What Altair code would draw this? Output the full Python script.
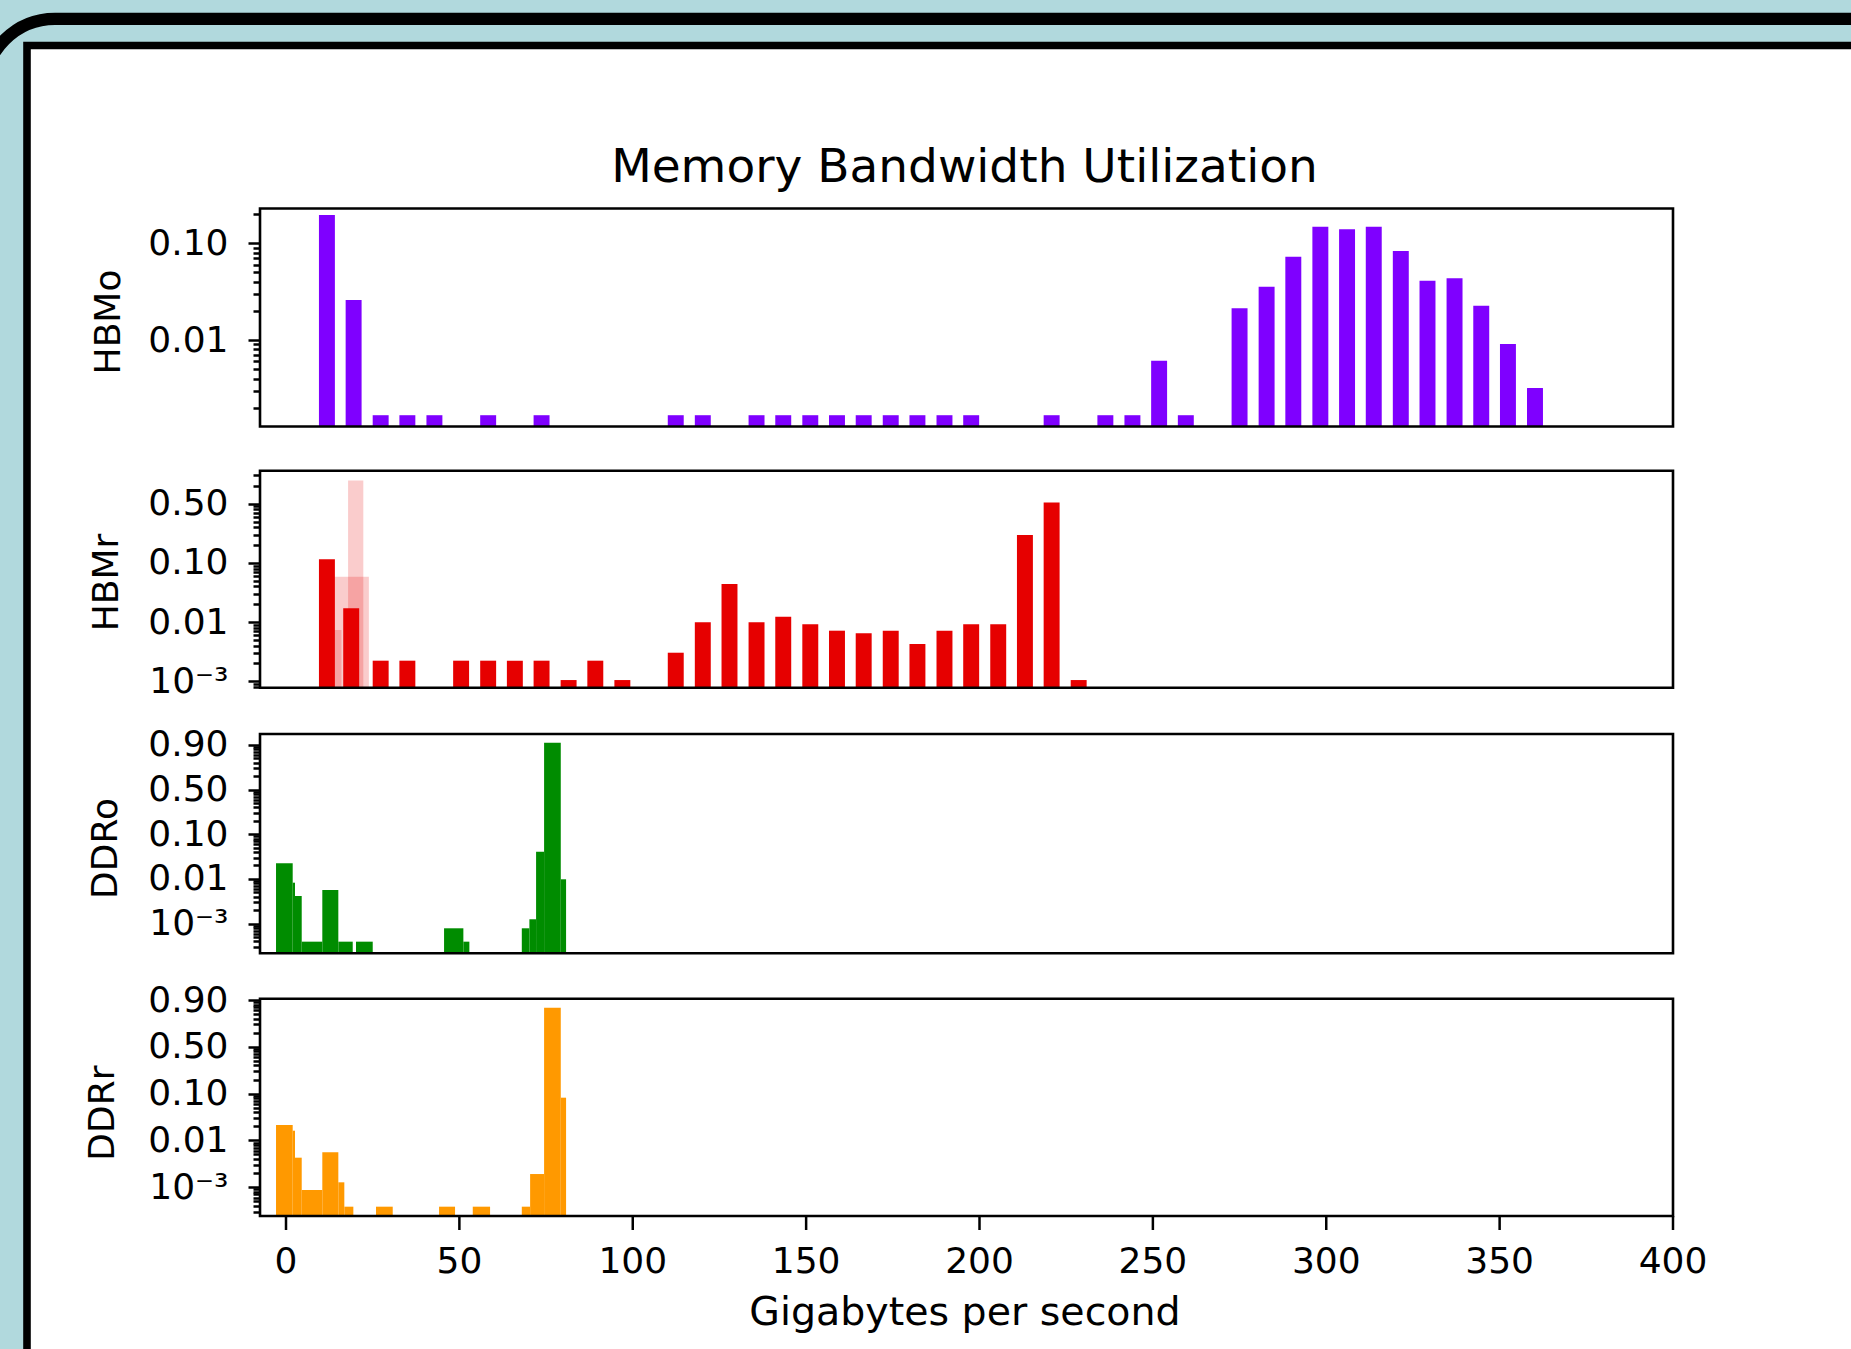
import math
import altair as alt
import pandas as pd

# ------------------------------------------------------------------ data
TITLE = "Memory Bandwidth Utilization"
X_TITLE = "Gigabytes per second"
PANEL_NAMES = ["HBMo", "HBMr", "DDRo", "DDRr"]
X_TICKS = [0, 50, 100, 150, 200, 250, 300, 350, 400]
X_TICK_LABELS = ["0", "50", "100", "150", "200", "250", "300", "350", "400"]

# HBM histograms: bin centres (GB/s) and fraction of samples
hbmo_center = [11.8, 19.5, 27.3, 35.0, 42.8, 58.3, 73.7, 112.4, 120.2, 135.7,
               143.4, 151.2, 158.9, 166.6, 174.4, 182.1, 189.9, 197.6, 220.8,
               236.3, 244.1, 251.8, 259.5, 275.0, 282.8, 290.5, 298.3, 306.0,
               313.7, 321.5, 329.2, 337.0, 344.7, 352.4, 360.2]
hbmo_value = [0.196, 0.0259, 0.00167, 0.00167, 0.00167, 0.00167, 0.00167,
              0.00167, 0.00167, 0.00167, 0.00167, 0.00167, 0.00167, 0.00167,
              0.00167, 0.00167, 0.00167, 0.00167, 0.00167, 0.00167, 0.00167,
              0.0061, 0.00167, 0.0213, 0.0356, 0.0726, 0.1486, 0.1396, 0.1486,
              0.0832, 0.0410, 0.0435, 0.0226, 0.0091, 0.00319]

hbmr_center = [11.8, 18.8, 27.3, 35.0, 50.5, 58.3, 66.0, 73.7, 81.5, 89.2,
               97.0, 112.4, 120.2, 127.9, 135.7, 143.4, 151.2, 158.9, 166.6,
               174.4, 182.1, 189.9, 197.6, 205.4, 213.1, 220.8, 228.6]
hbmr_value = [0.115, 0.0171, 0.00223, 0.00223, 0.00223, 0.00223, 0.00223,
              0.00223, 0.00105, 0.00223, 0.00105, 0.00304, 0.00993, 0.044,
              0.00993, 0.0123, 0.00918, 0.00716, 0.00647, 0.00716, 0.00427,
              0.00716, 0.00918, 0.00918, 0.296, 1.05, 0.00105]

# faint (translucent) HBMr bars
hbmr_shadow_start = [13.9, 17.9, 13.3]
hbmr_shadow_end = [23.9, 22.3, 16.0]
hbmr_shadow_value = [0.0585, 2.47, 0.00736]

# DDR histograms: segment start / end (GB/s) and value
ddro_start = [-2.88, 1.93, 2.60, 4.53, 10.47, 15.09, 20.19, 45.58, 51.15,
              68.00, 70.19, 72.12, 74.43, 79.24]
ddro_end = [1.93, 2.60, 4.53, 10.47, 15.09, 19.24, 25.01, 51.15, 52.88,
            70.19, 72.12, 74.43, 79.24, 80.77]
ddro_value = [0.0224, 0.00824, 0.00415, 0.000394, 0.00565, 0.000394, 0.000394,
              0.000785, 0.000394, 0.000785, 0.00125, 0.0407, 11.2, 0.00982]

ddrr_start = [-2.88, 1.93, 2.60, 4.53, 10.47, 15.09, 16.82, 25.96, 44.14,
              53.86, 68.00, 70.40, 74.43, 79.24]
ddrr_end = [1.93, 2.60, 4.53, 10.47, 15.09, 16.82, 19.42, 30.78, 48.75,
            58.85, 70.40, 74.43, 79.24, 80.77]
ddrr_value = [0.0213, 0.0161, 0.00427, 0.000871, 0.00557, 0.00127, 0.000383,
              0.000383, 0.000383, 0.000383, 0.000383, 0.00191, 6.85, 0.0818]

# y tick values and their (as-printed) labels
hbmo_ticks = [0.01, 0.1]
hbmo_tick_labels = ["0.01", "0.10"]
hbmr_ticks = [0.001, 0.01, 0.1, 1.0]
hbmr_tick_labels = ["10⁻³", "0.01", "0.10", "0.50"]
ddr_ticks = [0.001, 0.01, 0.1, 1.0, 10.0]
ddr_tick_labels = ["10⁻³", "0.01", "0.10", "0.50", "0.90"]

# log10 extents of the four y axes, and of the x axis
Y_EXP = [(-2.894, -0.640), (-3.108, 0.557), (-3.665, 1.245), (-3.616, 1.026)]
X_DOMAIN = [-7.5, 400]

# ------------------------------------------------------------------ layout / style
W, H = 1851, 1349
PL, PR = 260, 1673
PANELS = [(208.5, 426.5), (470.7, 687.7), (734.0, 953.3), (998.8, 1216.0)]
HALF = 2.3  # half bar width in GB/s
FONT = "DejaVu Sans"
COLORS = ["#7f00ff", "#e60000", "#008c00", "#ff9900"]
BG = "#b1d9dd"
X_TICK_LEN = 14
X_LABEL_GAP = 15

xscale = alt.Scale(domain=X_DOMAIN, range=[PL, PR], nice=False, zero=False)

AX = dict(labelFont=FONT, labelFontSize=36, labelColor="black",
          tickColor="black", tickWidth=2.5, domain=False, grid=False,
          labelFlush=False, labelOverlap=False, title=None, zindex=2)


def yscale(i):
    lo, hi = Y_EXP[i]
    top, bot = PANELS[i]
    return alt.Scale(type="log", domain=[10 ** lo, 10 ** hi], range=[bot, top],
                     nice=False)


def label_expr(ticks, labels):
    expr = "'" + labels[-1] + "'"
    for t, lab in reversed(list(zip(ticks[:-1], labels[:-1]))):
        expr = f"datum.value < {t * 3.0} ? '{lab}' : " + expr
    return expr


def minor_ticks(i):
    lo, hi = Y_EXP[i]
    out = []
    for d in range(math.floor(lo) - 1, math.ceil(hi) + 1):
        for m in range(2, 10):
            v = m * 10.0 ** d
            if 10 ** lo <= v <= 10 ** hi:
                out.append(v)
    return out


def major_axis(i, ticks, labels):
    return alt.Axis(orient="left", offset=-PL, values=ticks, tickSize=12,
                    labelPadding=20, labelExpr=label_expr(ticks, labels), **AX)


def minor_axis(i):
    return alt.Axis(orient="left", offset=-PL, values=minor_ticks(i),
                    tickSize=7, labels=False, **AX)


def bars(df, i, color, yaxis, opacity=1.0):
    return alt.Chart(df).mark_bar(color=color, opacity=opacity).encode(
        x=alt.X("x0:Q", scale=xscale, axis=None),
        x2="x1:Q",
        y=alt.Y("v:Q", scale=yscale(i), axis=yaxis),
        y2=alt.datum(10 ** Y_EXP[i][0]),
    )


def centred(centers, values):
    return pd.DataFrame({"x0": [c - HALF for c in centers],
                         "x1": [c + HALF for c in centers],
                         "v": values})


def ranged(starts, ends, values):
    return pd.DataFrame({"x0": starts, "x1": ends, "v": values})


one = pd.DataFrame({"k": [0]})


def deco_rect(x, x2, y, y2, **kw):
    return alt.Chart(one).mark_rect(**kw).encode(
        x=alt.value(x), x2=alt.value(x2), y=alt.value(y), y2=alt.value(y2))


def text(s, x, y, size, **kw):
    return alt.Chart(one).mark_text(text=s, font=FONT, fontSize=size,
                                    color="black", **kw).encode(
        x=alt.value(x), y=alt.value(y))


df_hbmo = centred(hbmo_center, hbmo_value)
df_hbmr = centred(hbmr_center, hbmr_value)
df_shadow = ranged(hbmr_shadow_start, hbmr_shadow_end, hbmr_shadow_value)
df_ddro = ranged(ddro_start, ddro_end, ddro_value)
df_ddrr = ranged(ddrr_start, ddrr_end, ddrr_value)
df_xt = pd.DataFrame({"t": X_TICKS, "lab": X_TICK_LABELS})

x_bottom = PANELS[3][1]
x_ticks = alt.Chart(df_xt).mark_rule(color="black", strokeWidth=2.5).encode(
    x=alt.X("t:Q", scale=xscale, axis=None),
    y=alt.value(x_bottom), y2=alt.value(x_bottom + X_TICK_LEN))
x_labels = alt.Chart(df_xt).mark_text(
    font=FONT, fontSize=36, color="black", align="center", baseline="top"
).encode(
    x=alt.X("t:Q", scale=xscale, axis=None),
    y=alt.value(x_bottom + X_TICK_LEN + X_LABEL_GAP),
    text="lab:N")

layers = [
    deco_rect(-16, 1950, 18.85, 1500, fill="white", fillOpacity=0,
              stroke="black", strokeWidth=12.3, cornerRadius=71),
    deco_rect(27, 1950, 45.5, 1500, fill="white", stroke="black",
              strokeWidth=7.6),
    # HBMo
    bars(df_hbmo, 0, COLORS[0], major_axis(0, hbmo_ticks, hbmo_tick_labels)),
    bars(df_hbmo, 0, COLORS[0], minor_axis(0), opacity=0),
    # HBMr
    bars(df_shadow, 1, COLORS[1], None, opacity=0.2),
    bars(df_hbmr, 1, COLORS[1], major_axis(1, hbmr_ticks, hbmr_tick_labels)),
    bars(df_hbmr, 1, COLORS[1], minor_axis(1), opacity=0),
    # DDRo
    bars(df_ddro, 2, COLORS[2], major_axis(2, ddr_ticks, ddr_tick_labels)),
    bars(df_ddro, 2, COLORS[2], minor_axis(2), opacity=0),
    # DDRr
    bars(df_ddrr, 3, COLORS[3], major_axis(3, ddr_ticks, ddr_tick_labels)),
    bars(df_ddrr, 3, COLORS[3], minor_axis(3), opacity=0),
    x_ticks,
    x_labels,
]

for top, bot in PANELS:
    layers.append(deco_rect(PL, PR, top, bot, fill="white", fillOpacity=0,
                            stroke="black", strokeWidth=2.6))

layers.append(text(TITLE, 964.5, 182, 47, align="center", baseline="alphabetic"))
layers.append(text(X_TITLE, 965, 1325, 39.5, align="center",
                   baseline="alphabetic"))

YLAB_POS = [(107, 322), (105, 582.5), (104, 848.5), (101, 1113)]
for name, (cx, cy) in zip(PANEL_NAMES, YLAB_POS):
    layers.append(text(name, cx + 13, cy, 36, align="center",
                       baseline="alphabetic", angle=270))

chart = alt.layer(*layers).resolve_scale(y="independent").properties(
    width=W, height=H, padding=0,
    autosize=alt.AutoSizeParams(type="none"),
    background=BG,
).configure_view(strokeWidth=0)

chart.save("out.html", embed_options={"renderer": "svg", "actions": False})
